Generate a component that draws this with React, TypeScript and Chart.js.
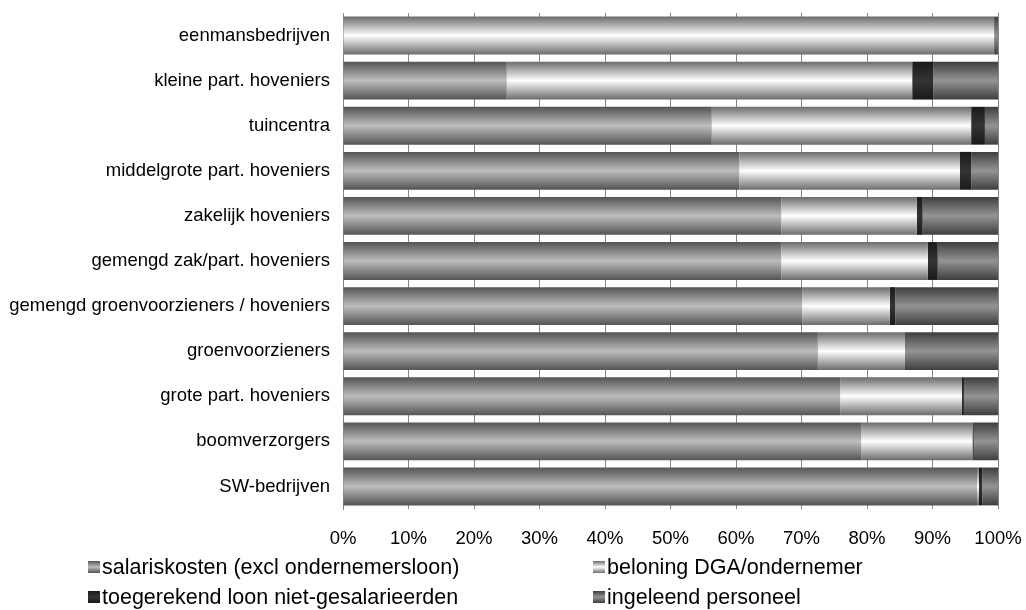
import React, { useEffect, useRef } from "react";
import { Chart, registerables } from "chart.js";

Chart.register(...registerables);

const categories = [
  "eenmansbedrijven",
  "kleine part. hoveniers",
  "tuincentra",
  "middelgrote part. hoveniers",
  "zakelijk hoveniers",
  "gemengd zak/part. hoveniers",
  "gemengd groenvoorzieners / hoveniers",
  "groenvoorzieners",
  "grote part. hoveniers",
  "boomverzorgers",
  "SW-bedrijven",
];

const seriesNames = [
  "salariskosten (excl ondernemersloon)",
  "beloning DGA/ondernemer",
  "toegerekend loon niet-gesalarieerden",
  "ingeleend personeel",
];

const salaris = [0, 25.0, 56.3, 60.5, 66.9, 66.9, 70.1, 72.5, 75.9, 79.1, 96.8];
const beloning = [99.4, 61.9, 39.6, 33.7, 20.7, 22.4, 13.4, 13.3, 18.6, 17.0, 0.3];
const toegerekend = [0, 3.2, 2.1, 1.7, 0.9, 1.5, 0.8, 0, 0.3, 0.2, 0.5];
const ingeleend = [0.6, 9.9, 2.0, 4.1, 11.5, 9.2, 15.7, 14.2, 5.2, 3.7, 2.4];

const xTicks = [0, 10, 20, 30, 40, 50, 60, 70, 80, 90, 100];

// edge colour, centre colour for each series' cylinder gradient
const gradientStops: [string, string][] = [
  ["#545454", "#bdbdbd"],
  ["#6c6c6c", "#ffffff"],
  ["#1a1a1a", "#343434"],
  ["#3e3e3e", "#949494"],
];

const FONT = "'Liberation Sans', Arial, Helvetica, sans-serif";
const BAR_PCT = 0.84;

function makeGradient(ctx: CanvasRenderingContext2D, top: number, bottom: number, stops: [string, string]) {
  const g = ctx.createLinearGradient(0, top, 0, bottom);
  g.addColorStop(0, stops[0]);
  g.addColorStop(0.5, stops[1]);
  g.addColorStop(1, stops[0]);
  return g;
}

export default function App() {
  const ref = useRef<HTMLCanvasElement | null>(null);

  useEffect(() => {
    document.body.style.margin = "0";
    const canvas = ref.current;
    if (!canvas) return;

    const barBg = (si: number) => (c: any) => {
      const chart = c.chart;
      const y = chart.scales?.y;
      const area = chart.chartArea;
      if (!y || !area || c.dataIndex === undefined) return gradientStops[si][1];
      const center = y.getPixelForValue(c.dataIndex);
      const band = (area.bottom - area.top) / categories.length;
      const half = (band * BAR_PCT) / 2;
      return makeGradient(chart.ctx, center - half, center + half, gradientStops[si]);
    };

    const legendPlugin = {
      id: "gridLegend",
      afterDraw(chart: any) {
        const ctx: CanvasRenderingContext2D = chart.ctx;
        const base = chart.chartArea.bottom;
        const colX = [88, 593];
        const rowY = [base + 58, base + 88];
        ctx.save();
        ctx.font = `21.5px ${FONT}`;
        ctx.textBaseline = "middle";
        ctx.textAlign = "left";
        seriesNames.forEach((name, i) => {
          const x = colX[i % 2];
          const y = rowY[Math.floor(i / 2)];
          const box = 12;
          ctx.fillStyle = makeGradient(ctx, y - box / 2, y + box / 2, gradientStops[i]);
          ctx.fillRect(x, y - box / 2, box, box);
          ctx.fillStyle = "#000";
          ctx.fillText(name, x + box + 2, y + 1);
        });
        ctx.restore();
      },
    };

    const seriesData = [salaris, beloning, toegerekend, ingeleend];

    const chart = new Chart(canvas, {
      type: "bar",
      data: {
        labels: categories,
        datasets: seriesData.map((d, i) => ({
          label: seriesNames[i],
          data: d,
          backgroundColor: barBg(i),
          borderWidth: 0,
          barPercentage: BAR_PCT,
          categoryPercentage: 1,
        })),
      },
      options: {
        indexAxis: "y",
        responsive: false,
        animation: false,
        layout: { padding: { top: 13, right: 28, bottom: 61, left: 0 } },
        plugins: {
          legend: { display: false },
          tooltip: { enabled: false },
        },
        scales: {
          x: {
            stacked: true,
            min: 0,
            max: 100,
            afterBuildTicks: (s: any) => {
              s.ticks = xTicks.map((v) => ({ value: v }));
            },
            afterFit: (s: any) => {
              s.height = 40;
              s.paddingLeft = 0;
              s.paddingRight = 0;
            },
            grid: { color: "#858585", lineWidth: 1, drawTicks: false },
            border: { display: false },
            ticks: {
              color: "#000",
              font: { family: FONT, size: 18.5 },
              padding: 19,
              callback: (v: any) => `${v}%`,
              maxRotation: 0,
            },
          },
          y: {
            stacked: true,
            afterFit: (s: any) => {
              s.width = 343;
              s.paddingTop = 0;
              s.paddingBottom = 0;
            },
            grid: { display: false, drawTicks: false },
            border: { display: true, color: "#858585" },
            ticks: {
              color: "#000",
              font: { family: FONT, size: 18.5 },
              padding: 13,
              autoSkip: false,
            },
          },
        },
      },
      plugins: [legendPlugin],
    } as any);

    return () => chart.destroy();
  }, []);

  return (
    <div style={{ width: 1026, height: 610, position: "relative" }}>
      <canvas ref={ref} width={1026} height={610} style={{ display: "block" }} />
    </div>
  );
}
